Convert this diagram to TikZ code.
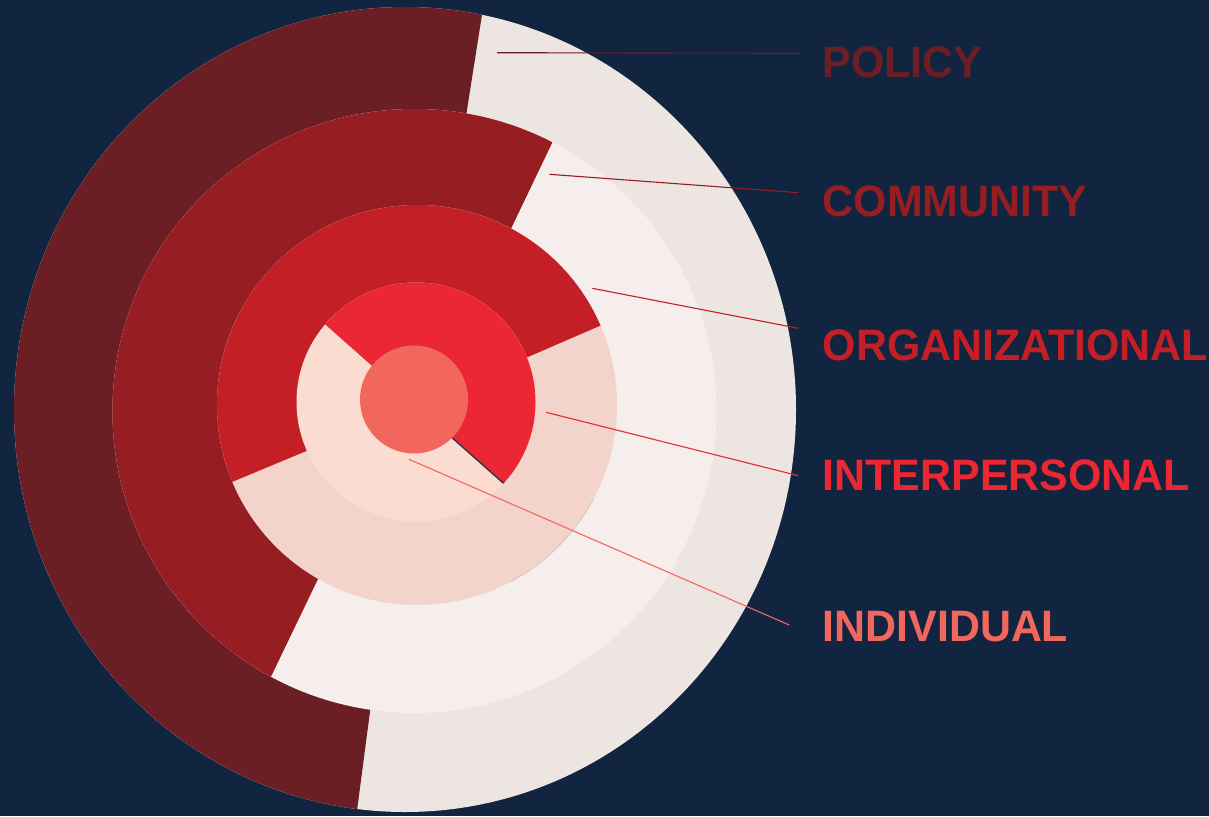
\documentclass[tikz,border=0pt]{standalone}
\usepackage{fontspec}
\newfontfamily\labelfont{Liberation Sans}[FakeStretch=0.975]

\definecolor{bg}{HTML}{112540}
\definecolor{policyDark}{HTML}{6B1F24}
\definecolor{policyLight}{HTML}{EDE5E1}
\definecolor{communityDark}{HTML}{961D22}
\definecolor{communityLight}{HTML}{F6EEEC}
\definecolor{orgDark}{HTML}{C41F27}
\definecolor{orgLight}{HTML}{F3D4CA}
\definecolor{interDark}{HTML}{EB2733}
\definecolor{interLight}{HTML}{FADCD1}
\definecolor{indivColor}{HTML}{F2675D}
\definecolor{edgeShade}{HTML}{2C3447}

\begin{document}
\begin{tikzpicture}[x=1pt,y=1pt,
  levellabel/.style={font=\labelfont\bfseries\fontsize{44}{44}\selectfont,
    anchor=base west, inner sep=0pt},
  leader/.style={line width=1.1pt}]

% canvas
\fill[bg] (0,0) rectangle (1209,-816);
\useasboundingbox (0,0) rectangle (1209,-816);

% policy level (outer ellipse)
\fill[policyLight] (405,-409.5) ellipse[x radius=391, y radius=402.5];
\begin{scope}
  \clip (497.9,86) -- (419.5,-411) -- (409.4,-411) -- (345.3,-900)
        -- (-100,-900) -- (-100,86) -- cycle;
  \fill[policyDark] (405,-409.5) ellipse[x radius=391, y radius=402.5];
\end{scope}

% community level
\fill[communityLight] (414.5,-411) circle[radius=302];
\begin{scope}
  \clip (644.5,50) -- (423.7,-411) -- (398.8,-411) -- (230.9,-760)
        -- (0,-760) -- (0,50) -- cycle;
  \fill[communityDark] (414.5,-411) circle[radius=302];
\end{scope}

% organizational level
\fill[orgLight] (417,-405) circle[radius=200];
\draw[gray!70, opacity=0.35, line width=1pt]
  (417,-405) ++(-62:200) arc[start angle=-62, end angle=-28, radius=200];
\fill[orgDark] (417,-405) -- ++(23.4:200)
  arc[start angle=23.4, end angle=202.6, radius=200] -- cycle;

% interpersonal level
\fill[interLight] (416,-402) circle[radius=119.5];
\draw[edgeShade, line width=3pt] (414,-403) ++(-41.5:50) -- ++(-41.5:70.3);
\begin{scope}
  \clip[rotate around={-41.5:(414,-403)}] (114,-403) rectangle (714,-103);
  \fill[interDark] (416,-402) circle[radius=119.5];
\end{scope}

% individual level
\fill[indivColor] (414,-399.5) circle[radius=54];

% leader line end points
\coordinate (policyIn)     at (497,-52.7);
\coordinate (policyOut)    at (799,-53.3);
\coordinate (communityIn)  at (549.3,-174.3);
\coordinate (communityOut) at (798.3,-192.7);
\coordinate (orgIn)        at (592.3,-288.3);
\coordinate (orgOut)       at (798.3,-328.3);
\coordinate (interIn)      at (546,-412.3);
\coordinate (interOut)     at (798.3,-475.7);
\coordinate (indivIn)      at (409,-459.3);
\coordinate (indivOut)     at (789.3,-625);

\draw[leader, policyDark]    (policyIn)    -- (policyOut);
\draw[leader, communityDark] (communityIn) -- (communityOut);
\draw[leader, orgDark]       (orgIn)       -- (orgOut);
\draw[leader, interDark]     (interIn)     -- (interOut);
\draw[leader, indivColor]    (indivIn)     -- (indivOut);

% level labels
\node[levellabel, text=policyDark]    (policy)         at (822.5,-77.5) {POLICY};
\node[levellabel, text=communityDark] (community)      at (822.5,-216)  {COMMUNITY};
\node[levellabel, text=orgDark]       (organizational) at (822.5,-360)  {ORGANIZATIONAL};
\node[levellabel, text=interDark]     (interpersonal)  at (822.5,-490)  {INTERPERSONAL};
\node[levellabel, text=indivColor]    (individual)     at (822.5,-641.5){INDIVIDUAL};
\end{tikzpicture}
\end{document}
